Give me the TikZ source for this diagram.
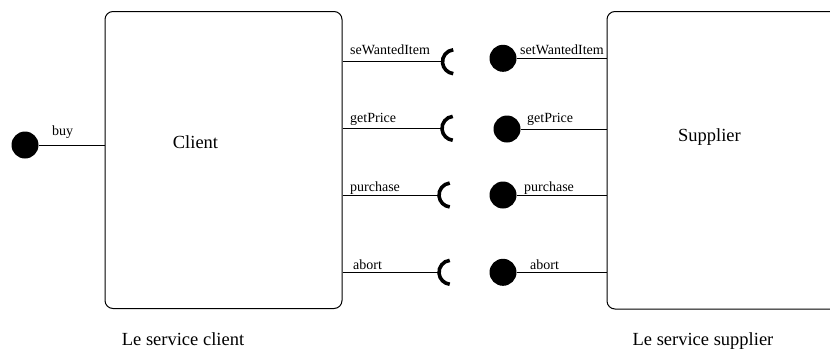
\documentclass[tikz,border=0pt]{standalone}
\usepackage{fontspec}
\setmainfont{Liberation Serif}
\begin{document}
\begin{tikzpicture}[x=1pt,y=-1pt,
  box/.style={draw, rounded corners=8pt, line width=1pt, inner sep=0pt},
  ball/.style={circle, fill=black, minimum size=27pt, inner sep=0pt},
  lbl/.style={font=\fontsize{14}{16}\selectfont, anchor=base west, inner sep=0pt},
  big/.style={font=\fontsize{18.5}{22}\selectfont, anchor=base, inner sep=0pt},
  conn/.style={line width=1pt},
  sock/.style={line width=3.6pt}]
\clip (0,0) rectangle (830,351);
\fill[white] (0,0) rectangle (830,351);
% boxes
\node[box, minimum width=237pt, minimum height=297pt] (client) at (223.5,160) {};
\node[box, minimum width=243pt, minimum height=297.5pt] (supplier) at (728.5,160.25) {};
\node[big] (clientlbl) at (195.5,148) {Client};
\node[big] (supplierlbl) at (709.5,141.7) {Supplier};
\node[big] (svcclient) at (183,345) {Le service client};
\node[big] (svcsupplier) at (703,345) {Le service supplier};
% buy
\node[ball] (buyball) at (25,145) {};
\draw[conn] (buyball) -- (buyball -| client.west);
\node[lbl] (buylbl) at (52,135) {buy};
% sockets (leftmost points)
\coordinate (k1) at (442.5,61.7);
\coordinate (k2) at (442,128.3);
\coordinate (k3) at (439,195);
\coordinate (k4) at (439,272.3);
\foreach \k in {k1,k2,k3,k4}{
  \draw[conn] (\k -| client.east) -- (\k);
  \draw[sock] ([xshift=12pt]\k) ++(96:12pt) arc[start angle=96, end angle=264, radius=12pt];
}
% balls
\node[ball] (b1) at (503,58.3) {};
\node[ball] (b2) at (507,129) {};
\node[ball] (b3) at (503,195) {};
\node[ball] (b4) at (503,272.3) {};
\draw[conn] (b1) -- (b1 -| supplier.west);
\draw[conn] (b2) -- (b2 -| supplier.west);
\draw[conn] (b3) -- (b3 -| supplier.west);
\draw[conn] (b4) -- (b4 -| supplier.west);
% labels
\node[lbl] (l1) at (350,54) {seWantedItem};
\node[lbl] (l2) at (350,122) {getPrice};
\node[lbl] (l3) at (350,191.5) {purchase};
\node[lbl] (l4) at (353,269) {abort};
\node[lbl] (r1) at (520,54) {setWantedItem};
\node[lbl] (r2) at (527,122) {getPrice};
\node[lbl] (r3) at (524,191.5) {purchase};
\node[lbl] (r4) at (530,269) {abort};
\end{tikzpicture}
\end{document}
